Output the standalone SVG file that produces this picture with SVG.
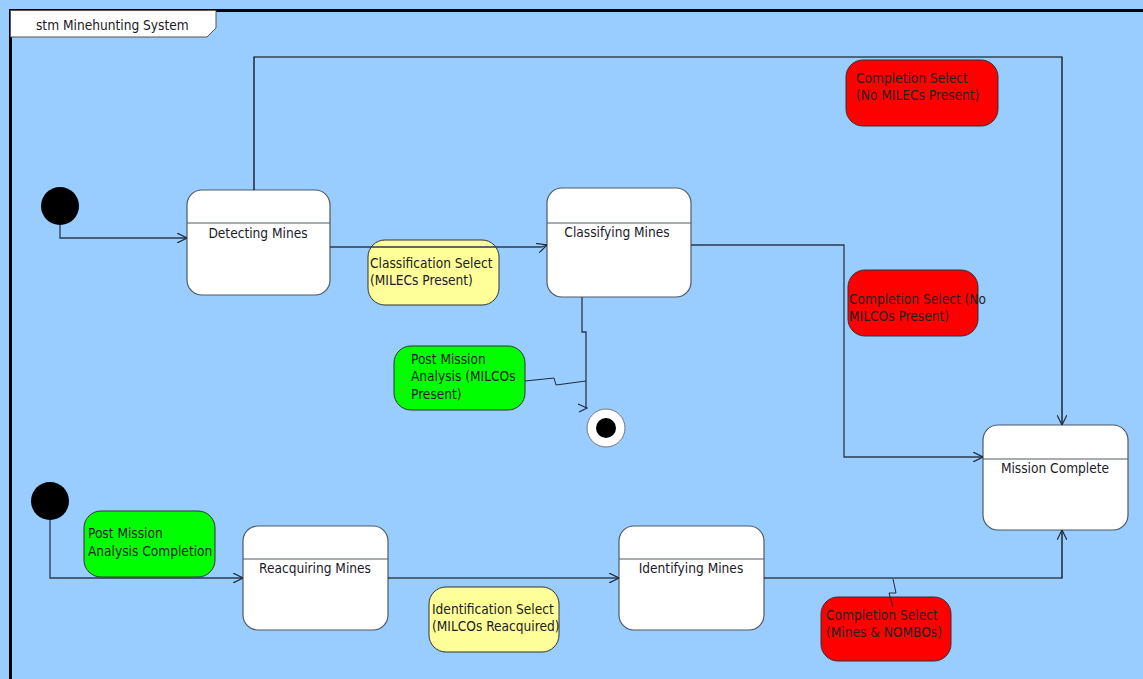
<svg xmlns="http://www.w3.org/2000/svg" width="1143" height="679" viewBox="0 0 1143 679">
<defs>
<marker id="arr" viewBox="0 0 10 10" refX="10" refY="5" markerWidth="10" markerHeight="10" markerUnits="userSpaceOnUse" orient="auto">
<path d="M0,0 L10,5 L0,10" fill="none" stroke="#1f2a3a" stroke-width="1.2"/>
</marker>
<style>
.bg{fill:#99ccff}
.frame{fill:none;stroke:#000;stroke-width:3}
.tab{fill:#fff;stroke:#555;stroke-width:1}
.state{fill:#fff;stroke:#505a66;stroke-width:1.2}
.div{stroke:#505a66;stroke-width:1}
.t{font-family:"DejaVu Sans Condensed","Liberation Sans",sans-serif;font-size:13.6px;fill:#1a1a2a}
.c{text-anchor:middle}
.yellow{fill:#ffff99;stroke:#333;stroke-width:1}
.green{fill:#00ff00;stroke:#333;stroke-width:1}
.red{fill:#ff0000;stroke:#333;stroke-width:1}
.nt{font-family:"DejaVu Sans Condensed","Liberation Sans",sans-serif;font-size:13.6px;fill:#202020}
.conn{fill:none;stroke:#2b3a4f;stroke-width:1.3}
.blk{fill:none;stroke:#000;stroke-width:1.2}
.anc{fill:none;stroke:#1f2a3a;stroke-width:1}
</style>
</defs>
<rect class="bg" x="0" y="0" width="1143" height="679"/>
<rect class="frame" x="10.5" y="10.5" width="1145" height="690"/>
<g id="frame-tab">
<polygon class="tab" points="10.5,10.5 216,10.5 216,28 207,37 10.5,37"/>
<text class="t" x="36" y="30">stm Minehunting System</text>
</g>

<g id="initial1"><circle cx="60" cy="206" r="19" fill="#000"/></g>
<g id="initial2"><circle cx="50" cy="501" r="19" fill="#000"/></g>
<g id="final"><circle cx="606" cy="428" r="19" fill="#fff" stroke="#777" stroke-width="1"/><circle cx="606" cy="428" r="10" fill="#000"/></g>

<g id="detecting-mines">
<rect class="state" x="187" y="190" width="143" height="105" rx="15"/>
<line class="div" x1="187" y1="223" x2="330" y2="223"/>
<text class="t c" x="258" y="238">Detecting Mines</text>
</g>
<g id="classifying-mines">
<rect class="state" x="547" y="188" width="144" height="109" rx="15"/>
<line class="div" x1="547" y1="223" x2="691" y2="223"/>
<text class="t c" x="617" y="237">Classifying Mines</text>
</g>
<g id="mission-complete">
<rect class="state" x="983" y="425" width="145" height="105" rx="15"/>
<line class="div" x1="983" y1="459" x2="1128" y2="459"/>
<text class="t c" x="1055" y="473">Mission Complete</text>
</g>
<g id="reacquiring-mines">
<rect class="state" x="243" y="526" width="145" height="104" rx="15"/>
<line class="div" x1="243" y1="559" x2="388" y2="559"/>
<text class="t c" x="315" y="573">Reacquiring Mines</text>
</g>
<g id="identifying-mines">
<rect class="state" x="619" y="526" width="145" height="104" rx="15"/>
<line class="div" x1="619" y1="559" x2="764" y2="559"/>
<text class="t c" x="691" y="573">Identifying Mines</text>
</g>

<g id="note-classification-select">
<rect class="yellow" x="368" y="240" width="131" height="65" rx="17"/>
<text class="nt" x="370" y="268">Classification Select</text>
<text class="nt" x="370" y="285">(MILECs Present)</text>
</g>
<g id="note-post-mission-analysis">
<rect class="green" x="394" y="346" width="131" height="64" rx="17"/>
<text class="nt" x="411" y="364">Post Mission</text>
<text class="nt" x="411" y="381">Analysis (MILCOs</text>
<text class="nt" x="411" y="399">Present)</text>
</g>
<g id="note-no-milecs">
<rect class="red" x="846" y="60" width="152" height="66" rx="17"/>
<text class="nt" x="856" y="83">Completion Select</text>
<text class="nt" x="856" y="100">(No MILECs Present)</text>
</g>
<g id="note-no-milcos">
<rect class="red" x="848" y="270" width="130" height="66" rx="17"/>
<text class="nt" x="849" y="304">Completion Select (No</text>
<text class="nt" x="849" y="321">MILCOs Present)</text>
</g>
<g id="note-pma-completion">
<rect class="green" x="84" y="511" width="131" height="66" rx="17"/>
<text class="nt" x="88" y="538">Post Mission</text>
<text class="nt" x="88" y="556">Analysis Completion</text>
</g>
<g id="note-identification-select">
<rect class="yellow" x="429" y="587" width="130" height="65" rx="17"/>
<text class="nt" x="432" y="614">Identification Select</text>
<text class="nt" x="432" y="631">(MILCOs Reacquired)</text>
</g>
<g id="note-mines-nombos">
<rect class="red" x="821" y="597" width="130" height="64" rx="17"/>
<text class="nt" x="826" y="620">Completion Select</text>
<text class="nt" x="826" y="637">(Mines &amp; NOMBOs)</text>
</g>

<g id="connectors">
<polyline class="conn" points="60,225 60,238 187,238" marker-end="url(#arr)"/>
<polyline class="conn" points="330,247 541,247 547,245" marker-end="url(#arr)"/>
<polyline class="blk" points="254,190 254,57 1062,57 1062,425" marker-end="url(#arr)"/>
<polyline class="conn" points="691,245 844,245 844,457 983,457" marker-end="url(#arr)"/>
<polyline class="conn" points="582,297 582,332 586,332 586,408"/>
<path d="M578,404 L587,408 L579,412" fill="none" stroke="#1f2a3a" stroke-width="1.2"/>
<polyline class="conn" points="50,520 50,578 243,578" marker-end="url(#arr)"/>
<polyline class="blk" points="388,578 619,578" marker-end="url(#arr)"/>
<polyline class="blk" points="764,578 1062,578 1062,530" marker-end="url(#arr)"/>
<polyline class="anc" points="525,381 554,378 556,385 586,381"/>
<polyline class="anc" points="893,579 896,593 889,593 893,607"/>
</g>
</svg>
